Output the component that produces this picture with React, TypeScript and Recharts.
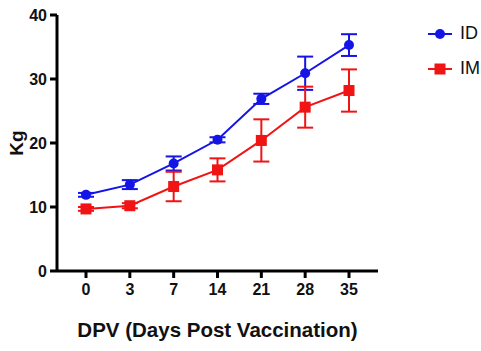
import { LineChart, Line, XAxis, YAxis, ErrorBar } from 'recharts';

const DAYS = ['0', '3', '7', '14', '21', '28', '35'];
const ID_MEAN = [11.9, 13.5, 16.8, 20.5, 26.9, 30.9, 35.3];
const ID_ERR = [0.3, 0.7, 1.1, 0.4, 0.8, 2.6, 1.7];
const IM_MEAN = [9.7, 10.2, 13.2, 15.8, 20.4, 25.6, 28.2];
const IM_ERR = [0.3, 0.4, 2.3, 1.8, 3.3, 3.2, 3.3];
const Y_TICKS = [0, 10, 20, 30, 40];

const SERIES = [
  { key: 'id', name: 'ID', color: '#1414e6', shape: 'circle' },
  { key: 'im', name: 'IM', color: '#f01414', shape: 'square' },
];

const data = DAYS.map((d, i) => ({
  day: d,
  id: ID_MEAN[i],
  idErr: ID_ERR[i],
  im: IM_MEAN[i],
  imErr: IM_ERR[i],
}));

const TICK_FONT = '"Liberation Sans Narrow", "Liberation Sans", Arial, sans-serif';
const LABEL_FONT = 'Arial, "Liberation Sans", sans-serif';

const Square = (props: any) => {
  const { cx, cy, index } = props;
  if (cx == null || cy == null) return null;
  return <rect key={index} x={cx - 5.5} y={cy - 5.5} width={11} height={11} fill="#f01414" />;
};

const LegendBox = () => (
  <div style={{ position: 'absolute', left: 427, top: 16, fontFamily: LABEL_FONT, fontSize: 18 }}>
    {SERIES.map((s) => (
      <div key={s.key} style={{ display: 'flex', alignItems: 'center', height: 35 }}>
        <svg width={26} height={14} style={{ marginRight: 7 }}>
          <line x1={1} y1={7} x2={25} y2={7} stroke={s.color} strokeWidth={2} />
          {s.shape === 'circle' ? (
            <circle cx={13} cy={7} r={5} fill={s.color} />
          ) : (
            <rect x={7.5} y={1.5} width={11} height={11} fill={s.color} />
          )}
        </svg>
        <span style={{ color: '#111' }}>{s.name}</span>
      </div>
    ))}
  </div>
);

export default function App() {
  return (
    <div style={{ position: 'absolute', left: 0, top: 0, width: 481, height: 351, background: '#fff' }}>
      <LineChart width={481} height={351} data={data} margin={{ top: 15, right: 103, bottom: 0, left: 0 }}>
        <XAxis
          dataKey="day"
          height={80}
          padding={{ left: 29, right: 29 }}
          stroke="#000"
          strokeWidth={3}
          tickSize={7}
          tickMargin={6}
          tick={{ fill: '#111', fontSize: 16, fontWeight: 700, fontFamily: TICK_FONT }}
          label={{
            value: 'DPV (Days Post Vaccination)',
            position: 'insideBottom',
            offset: 14,
            style: { fill: '#111', fontSize: 20.5, fontWeight: 700, fontFamily: LABEL_FONT },
          }}
        />
        <YAxis
          width={57}
          domain={[0, 40]}
          ticks={Y_TICKS}
          stroke="#000"
          strokeWidth={3}
          tickSize={7}
          tickMargin={3}
          tick={{ fill: '#111', fontSize: 16, fontWeight: 700, fontFamily: TICK_FONT }}
          label={{
            value: 'Kg',
            angle: -90,
            position: 'insideLeft',
            offset: 16,
            style: { fill: '#111', fontSize: 19, fontWeight: 700, fontFamily: LABEL_FONT, textAnchor: 'middle' },
          }}
        />
        <Line
          dataKey="id"
          name="ID"
          stroke="#1414e6"
          strokeWidth={2}
          dot={{ r: 5, fill: '#1414e6', stroke: '#1414e6', strokeWidth: 0 }}
          isAnimationActive={false}
        >
          <ErrorBar dataKey="idErr" width={8} stroke="#1414e6" strokeWidth={2} direction="y" />
        </Line>
        <Line
          dataKey="im"
          name="IM"
          stroke="#f01414"
          strokeWidth={2}
          dot={Square}
          isAnimationActive={false}
        >
          <ErrorBar dataKey="imErr" width={8} stroke="#f01414" strokeWidth={2} direction="y" />
        </Line>
      </LineChart>
      <LegendBox />
    </div>
  );
}
